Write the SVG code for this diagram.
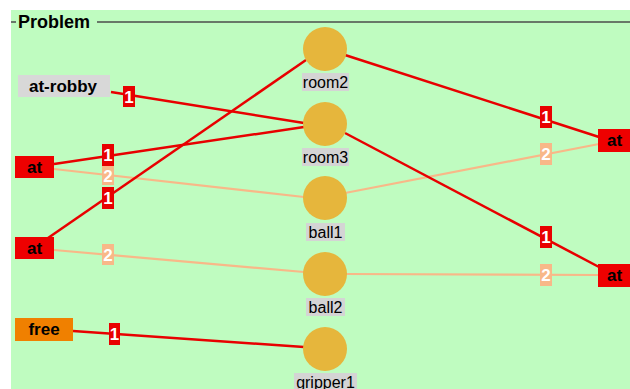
<svg xmlns="http://www.w3.org/2000/svg" width="630" height="389" viewBox="0 0 630 389">
<style>
.bold{font-family:"Liberation Sans",Arial,sans-serif;font-weight:bold;font-size:17px;fill:#000}
.reg{font-family:"Liberation Sans",Arial,sans-serif;font-size:16px;fill:#000}
.obj{fill:#e6b63c}
.objlbl{fill:#d4d4d4}
.e1{stroke:#e80000;stroke-width:2.5;fill:none}
.e2{stroke:#f8b888;stroke-width:2.2;fill:none}
.b1{fill:#e80000}
.b2{fill:#f8b888}
.n{font-family:"Liberation Sans",Arial,sans-serif;font-weight:bold;font-size:17px;fill:#fff;text-anchor:middle}
</style>
<rect x="0" y="0" width="630" height="389" fill="#fff"/>
<g id="panel">
<rect x="11" y="10" width="619" height="379" fill="#bffcc0"/>
<line x1="11" y1="22" x2="16" y2="22" stroke="#687868" stroke-width="2"/>
<line x1="97" y1="22" x2="630" y2="22" stroke="#687868" stroke-width="2"/>
<text x="18" y="28" font-family="Liberation Sans,Arial,sans-serif" font-weight="bold" font-size="18">Problem</text>
</g>
<g id="connectors">
<line class="e1" x1="111" y1="92" x2="304" y2="123"/>
<line class="e1" x1="54" y1="164" x2="304" y2="127"/>
<line class="e2" x1="54" y1="169" x2="304" y2="197"/>
<line class="e1" x1="48" y1="238" x2="306" y2="60"/>
<line class="e2" x1="54" y1="250" x2="304" y2="272"/>
<line class="e1" x1="73" y1="331" x2="304" y2="347"/>
<line class="e1" x1="345" y1="55" x2="599" y2="137"/>
<line class="e2" x1="345" y1="193" x2="599" y2="144"/>
<line class="e1" x1="345" y1="133" x2="599" y2="267"/>
<line class="e2" x1="345" y1="274" x2="599" y2="275"/>
<rect class="b1" x="123" y="86" width="12" height="21"/><text class="n" x="129" y="103">1</text>
<rect class="b1" x="102" y="144" width="12" height="22"/><text class="n" x="108" y="161">1</text>
<rect class="b2" x="102" y="166" width="12" height="19"/><text class="n" x="108" y="182">2</text>
<rect class="b1" x="102" y="187" width="12" height="22"/><text class="n" x="108" y="204">1</text>
<rect class="b2" x="102" y="244" width="12" height="21"/><text class="n" x="108" y="261">2</text>
<rect class="b1" x="109" y="323" width="11" height="22"/><text class="n" x="114.5" y="340">1</text>
<rect class="b1" x="540" y="106" width="12" height="22"/><text class="n" x="546" y="123">1</text>
<rect class="b2" x="540" y="143" width="12" height="22"/><text class="n" x="546" y="160">2</text>
<rect class="b1" x="540" y="226" width="12" height="22"/><text class="n" x="546" y="243">1</text>
<rect class="b2" x="540" y="264" width="12" height="22"/><text class="n" x="546" y="281">2</text>
</g>
<g id="at-robby"><rect x="18" y="75" width="92" height="22" fill="#d8d8d8"/><text class="bold" x="63" y="92" text-anchor="middle">at-robby</text></g>
<g id="at1"><rect x="15" y="156" width="39" height="22" fill="#ee0000"/><text class="bold" x="34.5" y="173" text-anchor="middle">at</text></g>
<g id="at2"><rect x="15" y="237" width="39" height="22" fill="#ee0000"/><text class="bold" x="34.5" y="254" text-anchor="middle">at</text></g>
<g id="free"><rect x="15" y="318" width="58" height="23" fill="#f08000"/><text class="bold" x="44" y="335" text-anchor="middle">free</text></g>
<g id="at3"><rect x="598" y="129" width="40" height="23" fill="#ee0000"/><text class="bold" x="607" y="146">at</text></g>
<g id="at4"><rect x="598" y="264" width="40" height="23" fill="#ee0000"/><text class="bold" x="607" y="281">at</text></g>
<g id="room2"><circle class="obj" cx="325" cy="49" r="22"/><rect class="objlbl" x="302" y="73" width="47" height="18"/><text class="reg" x="325.5" y="88" text-anchor="middle">room2</text></g>
<g id="room3"><circle class="obj" cx="325" cy="124" r="22"/><rect class="objlbl" x="302" y="148" width="47" height="18"/><text class="reg" x="325.5" y="163" text-anchor="middle">room3</text></g>
<g id="ball1"><circle class="obj" cx="325" cy="198" r="22"/><rect class="objlbl" x="306" y="223" width="39" height="18"/><text class="reg" x="325.5" y="238" text-anchor="middle">ball1</text></g>
<g id="ball2"><circle class="obj" cx="325" cy="274" r="22"/><rect class="objlbl" x="306" y="298" width="39" height="18"/><text class="reg" x="325.5" y="313" text-anchor="middle">ball2</text></g>
<g id="gripper1"><circle class="obj" cx="325" cy="349" r="22"/><rect class="objlbl" x="294" y="373" width="63" height="18"/><text class="reg" x="325.5" y="388" text-anchor="middle">gripper1</text></g>
</svg>
